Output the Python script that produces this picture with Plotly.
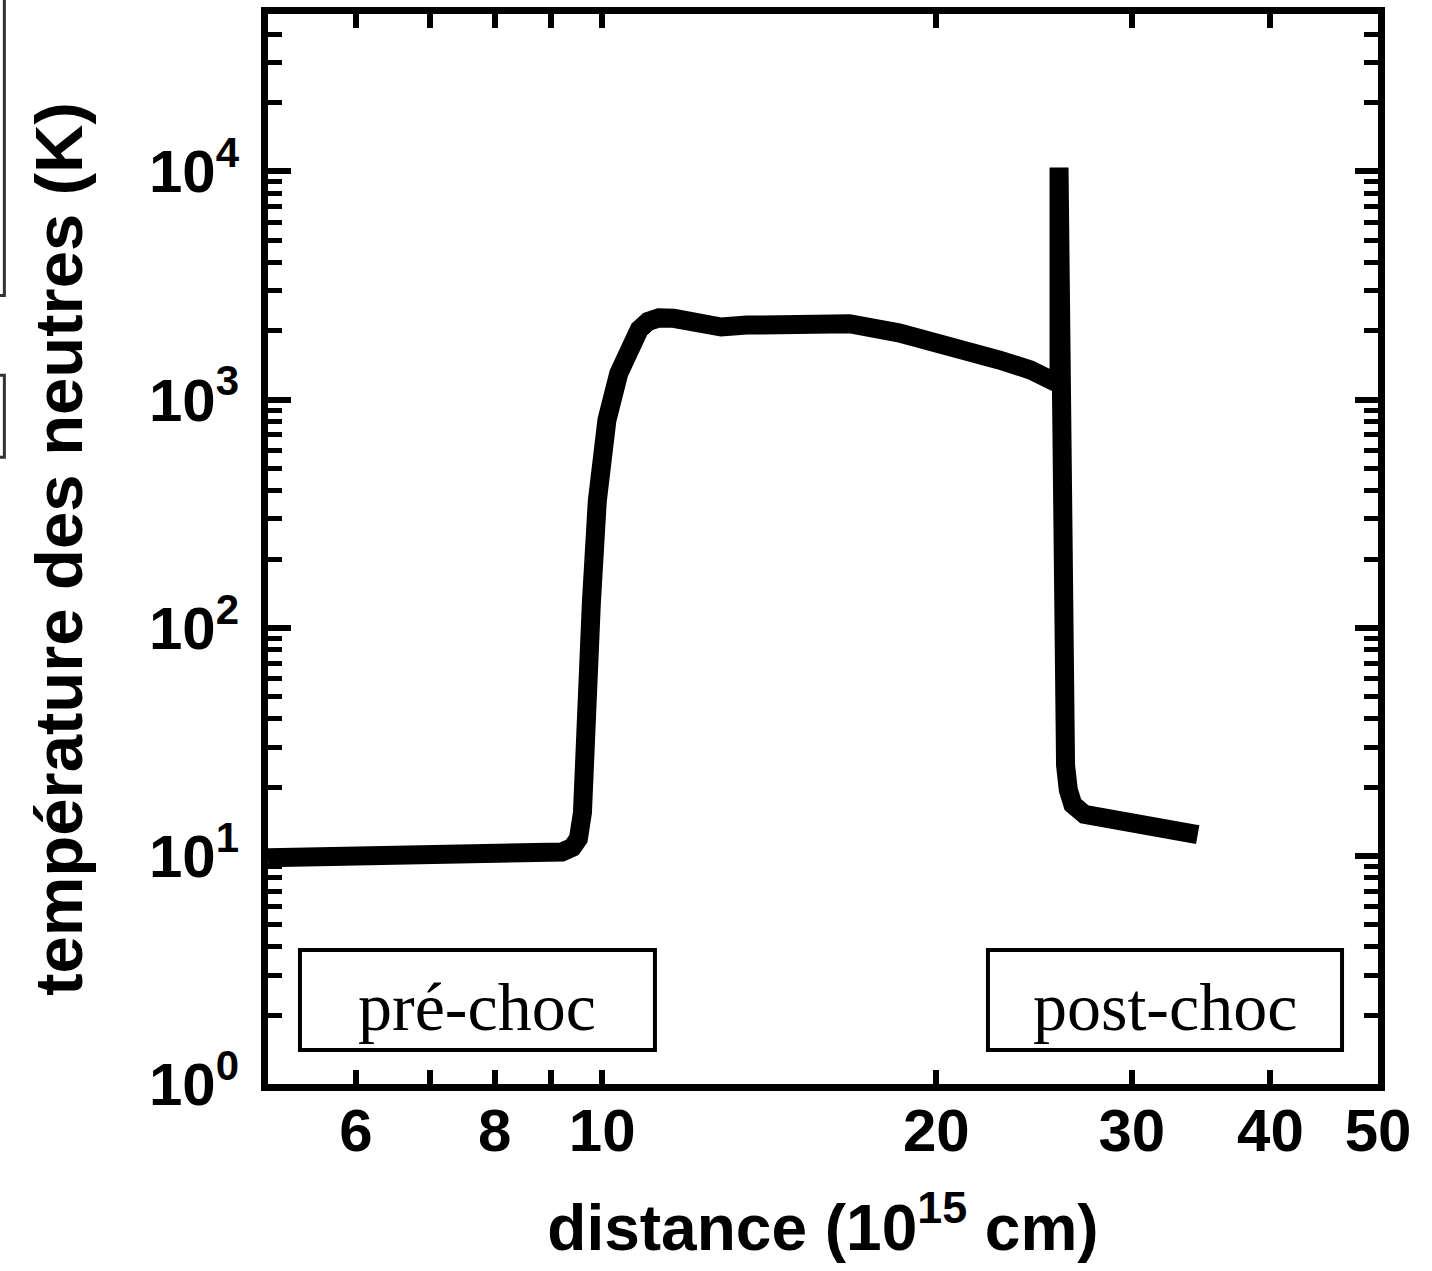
import plotly.graph_objects as go
import numpy as np

# ---- data ----
distance = [5.0, 6.0, 7.0, 8.0, 8.8, 9.2, 9.4, 9.52, 9.6, 9.67, 9.78, 9.9, 10.1, 10.35,
            10.6, 10.8, 11.0, 11.25, 11.6, 11.9, 12.3, 12.8, 13.5, 15.0, 16.7, 18.5, 20.5, 22.8,
            24.3, 25.6, 25.8, 25.8, 25.85, 25.95, 26.05, 26.15, 26.3, 26.55, 27.2,
            29.9, 34.4]
temperature = [9.8, 9.85, 9.9, 9.95, 10.1, 10.4, 10.9, 11.9, 15.5, 48, 130, 360, 813, 1300,
               1750, 2030, 2200, 2280, 2270, 2200, 2090, 2080, 2120, 2185, 2150, 1960, 1740, 1490,
               1350, 1190, 1170, 10400, 1000, 150, 45, 25, 19.5, 16.8, 15.2, 14.0, 12.4]

x_tickvals = [6, 7, 8, 9, 10, 20, 30, 40, 50]
x_ticktext = ["6", "", "8", "", "10", "20", "30", "40", "50"]
y_tickvals = [1, 10, 100, 1000, 10000]
y_ticktext = ["10<sup>0</sup>", "10<sup>1</sup>", "10<sup>2</sup>", "10<sup>3</sup>", "10<sup>4</sup>"]
y_minor = [m * 10 ** d for d in range(0, 5) for m in range(2, 10) if m * 10 ** d < 50000]

labels = ["pré-choc", "post-choc"]
x_title = "distance (10<sup>15</sup> cm)"
y_title = "température des neutres (K)"

FONT = "Liberation Sans, Arial, sans-serif"

fig = go.Figure()
fig.add_trace(go.Scatter(x=distance, y=temperature, mode="lines",
                         line=dict(color="black", width=19),
                         showlegend=False, hoverinfo="skip"))

axis_common = dict(showline=True, linecolor="black", linewidth=7, mirror="allticks",
                   ticks="inside", tickcolor="black", showgrid=False, zeroline=False,
                   automargin=False)

fig.update_layout(
    width=1432, height=1271,
    margin=dict(l=268, r=54, t=14, b=187, pad=0),
    paper_bgcolor="white", plot_bgcolor="white",
    xaxis=dict(type="log", range=[np.log10(5), np.log10(50)],
               tickmode="array", tickvals=x_tickvals, ticktext=x_ticktext,
               ticklen=14, tickwidth=6, ticklabelstandoff=-12,
               tickfont=dict(family=FONT, size=60, color="black", weight="bold"),
               title=dict(text=x_title, standoff=45,
                          font=dict(family=FONT, size=64, color="black", weight="bold")),
               **axis_common),
    yaxis=dict(type="log", range=[0, 4.69],
               tickmode="array", tickvals=y_tickvals, ticktext=y_ticktext,
               ticklen=23, tickwidth=6, ticklabelstandoff=10,
               minor=dict(tickmode="array", tickvals=y_minor, ticks="inside",
                          ticklen=14, tickwidth=5, tickcolor="black", showgrid=False),
               tickfont=dict(family=FONT, size=60, color="black", weight="bold"),
               title=dict(text=y_title, standoff=47,
                          font=dict(family=FONT, size=67, color="black", weight="bold")),
               **axis_common),
)

# region label boxes
boxes = [(0.0288, 0.3486), (0.6486, 0.9676)]
for (x0, x1), lab in zip(boxes, labels):
    fig.add_shape(type="rect", xref="paper", yref="paper", x0=x0, x1=x1,
                  y0=0.0318, y1=0.1252, line=dict(color="black", width=4),
                  fillcolor="white")
    fig.add_annotation(xref="paper", yref="paper", x=(x0 + x1) / 2, y=0.072,
                       text=lab, showarrow=False, xanchor="center", yanchor="middle",
                       font=dict(family="Liberation Serif, Times New Roman, serif",
                                 size=68, color="black"))

# partial frames cut by the left page edge
fig.add_shape(type="rect", xref="paper", yref="paper", x0=-0.27, x1=-0.2375,
              y0=0.737, y1=1.03, line=dict(color="#333333", width=3))
fig.add_shape(type="rect", xref="paper", yref="paper", x0=-0.27, x1=-0.2375,
              y0=0.5857, y1=0.6623, line=dict(color="#333333", width=3))

fig.write_html("out.html")
